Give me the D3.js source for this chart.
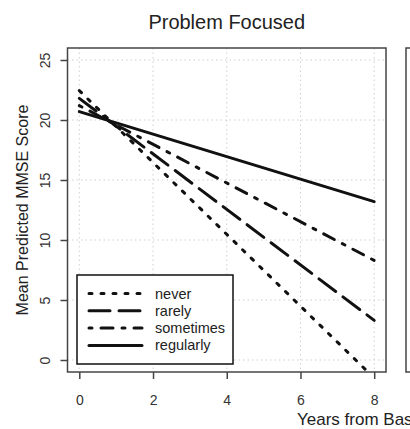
<!DOCTYPE html>
<html>
<head>
<meta charset="utf-8">
<script src="https://cdn.jsdelivr.net/npm/d3@7"></script>
<style>
  body { margin: 0; background: #fff; }
  svg { display: block; font-family: "Liberation Sans", Arial, Helvetica, sans-serif; }
</style>
</head>
<body>
<div id="chart"></div>
<script>
// predicted MMSE at baseline and at year 8, by frequency of problem-focused coping
const years = [0, 8];
const groups = ["never", "rarely", "sometimes", "regularly"];
const never = [22.45, -1.5];
const rarely = [21.8, 3.3];
const sometimes = [21.2, 8.3];
const regularly = [20.7, 13.2];
const xTicks = [0, 2, 4, 6, 8];
const yTicks = [0, 5, 10, 15, 20, 25];

const series = [never, rarely, sometimes, regularly];
const dashes = ["3,9", "21,9", "3,9,12,9", null];

const W = 410, H = 429;
const box = { left: 67.5, right: 386, top: 48, bottom: 372 };

const svg = d3
  .select("#chart")
  .append("svg")
  .attr("width", W)
  .attr("height", H);

const x = d3.scaleLinear().domain([-0.32, 8.32]).range([box.left, box.right]);
const y = d3.scaleLinear().domain([-1, 26]).range([box.bottom, box.top]);

svg
  .append("defs")
  .append("clipPath")
  .attr("id", "plot-clip")
  .append("rect")
  .attr("x", box.left)
  .attr("y", box.top)
  .attr("width", box.right - box.left)
  .attr("height", box.bottom - box.top);

// grid
const grid = svg.append("g").attr("stroke", "#cfcfcf").attr("stroke-width", 1).attr("stroke-dasharray", "1.5,3");
grid
  .selectAll("line.v")
  .data(xTicks)
  .join("line")
  .attr("class", "v")
  .attr("x1", (d) => x(d))
  .attr("x2", (d) => x(d))
  .attr("y1", box.top)
  .attr("y2", box.bottom);
grid
  .selectAll("line.h")
  .data(yTicks)
  .join("line")
  .attr("class", "h")
  .attr("x1", box.left)
  .attr("x2", box.right)
  .attr("y1", (d) => y(d))
  .attr("y2", (d) => y(d));

// lines
const line = d3
  .line()
  .x((d, i) => x(years[i]))
  .y((d) => y(d));

svg
  .append("g")
  .attr("clip-path", "url(#plot-clip)")
  .selectAll("path")
  .data(series)
  .join("path")
  .attr("d", line)
  .attr("fill", "none")
  .attr("stroke", "#111")
  .attr("stroke-width", 3)
  .attr("stroke-linecap", "round")
  .attr("stroke-dasharray", (d, i) => dashes[i]);

// axes
const xAxis = svg
  .append("g")
  .attr("transform", `translate(0,${box.bottom})`)
  .call(d3.axisBottom(x).tickValues(xTicks).tickSize(7).tickSizeOuter(0));
xAxis.select(".domain").remove();
xAxis.selectAll("line").attr("stroke", "#444").attr("stroke-width", 1.5);
xAxis
  .selectAll("text")
  .attr("y", 33)
  .attr("dy", null)
  .attr("fill", "#333")
  .style("font-size", "14px");

const yAxis = svg
  .append("g")
  .attr("transform", `translate(${box.left},0)`)
  .call(d3.axisLeft(y).tickValues(yTicks).tickSize(7).tickSizeOuter(0));
yAxis.select(".domain").remove();
yAxis.selectAll("line").attr("stroke", "#444").attr("stroke-width", 1.5);
yAxis
  .selectAll("text")
  .attr("x", null)
  .attr("dy", null)
  .attr("text-anchor", "middle")
  .attr("transform", "translate(-17.5,0) rotate(-90)")
  .attr("fill", "#333")
  .style("font-size", "14px");

// plot box
svg
  .append("rect")
  .attr("x", box.left)
  .attr("y", box.top)
  .attr("width", box.right - box.left)
  .attr("height", box.bottom - box.top)
  .attr("fill", "none")
  .attr("stroke", "#444")
  .attr("stroke-width", 1.5);

// edge of the neighbouring panel
svg
  .append("rect")
  .attr("x", 406)
  .attr("y", box.top)
  .attr("width", 40)
  .attr("height", box.bottom - box.top)
  .attr("fill", "none")
  .attr("stroke", "#444")
  .attr("stroke-width", 1.5);

// legend
const legend = svg.append("g");
legend
  .append("rect")
  .attr("x", 77)
  .attr("y", 275)
  .attr("width", 156)
  .attr("height", 89)
  .attr("fill", "#fff")
  .attr("stroke", "#111")
  .attr("stroke-width", 1.5);

const item = legend
  .selectAll("g.item")
  .data(groups)
  .join("g")
  .attr("class", "item")
  .attr("transform", (d, i) => `translate(0,${293.5 + i * 17.3})`);
item
  .append("line")
  .attr("x1", 89)
  .attr("x2", 142)
  .attr("stroke", "#111")
  .attr("stroke-width", 3)
  .attr("stroke-linecap", "round")
  .attr("stroke-dasharray", (d, i) => dashes[i]);
item
  .append("text")
  .attr("x", 155)
  .attr("dy", "0.35em")
  .attr("fill", "#222")
  .style("font-size", "14.5px")
  .text((d) => d);

// titles
svg
  .append("text")
  .attr("x", (box.left + box.right) / 2)
  .attr("y", 29)
  .attr("text-anchor", "middle")
  .attr("fill", "#222")
  .style("font-size", "20px")
  .text("Problem Focused");

svg
  .append("text")
  .attr("transform", `translate(28,${(box.top + box.bottom) / 2}) rotate(-90)`)
  .attr("text-anchor", "middle")
  .attr("fill", "#222")
  .style("font-size", "16px")
  .text("Mean Predicted MMSE Score");

// shared x label of the full figure; it runs past the right edge as in the reference
svg
  .append("text")
  .attr("x", 297)
  .attr("y", 425)
  .attr("fill", "#222")
  .style("font-size", "17px")
  .text("Years from Baseline");
</script>
</body>
</html>
